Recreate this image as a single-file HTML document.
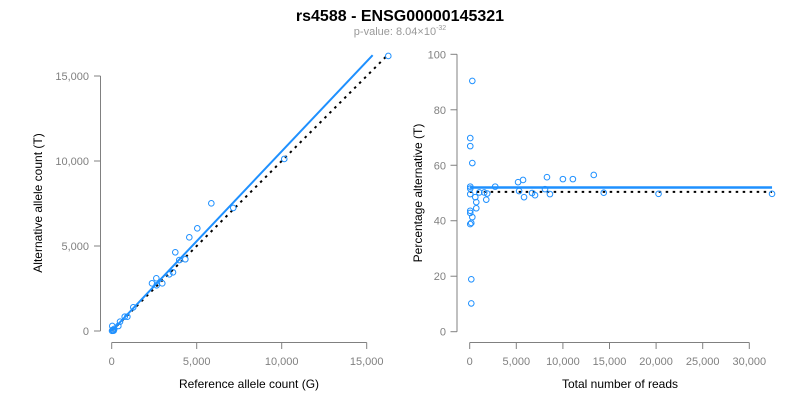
<!DOCTYPE html>
<html><head><meta charset="utf-8">
<style>
body{margin:0;background:#fff;}
svg{display:block;font-family:"Liberation Sans",Arial,sans-serif;}
.tick{font-size:11px;fill:#808080;}
.axt{font-size:12px;fill:#000;}
</style></head>
<body>
<svg id="chart" width="800" height="400">
<text x="400" y="21" text-anchor="middle" font-size="16" font-weight="bold">rs4588 - ENSG00000145321</text>
<text x="400" y="35" text-anchor="middle" font-size="11" fill="#999">p-value: 8.04×10<tspan dy="-5" font-size="7">-32</tspan></text>
<g id="left"></g>
<g id="right"></g>
<text class="axt" x="249" y="388" text-anchor="middle">Reference allele count (G)</text>
<text class="axt" transform="translate(42,203) rotate(-90)" text-anchor="middle">Alternative allele count (T)</text>
<text class="axt" x="620" y="388" text-anchor="middle">Total number of reads</text>
<text class="axt" transform="translate(422,193) rotate(-90)" text-anchor="middle">Percentage alternative (T)</text>
</svg>
<script>
const refCounts=[16270,10150,5860,7150,5035,4565,3740,4330,3975,3605,3390,2625,2370,2975,2645,1270,920,765,490,390,35,60,120,20,90,150];
const altCounts=[16180,10120,7510,7240,6040,5510,4630,4220,4175,3450,3335,3100,2805,2805,2690,1395,840,840,550,295,295,60,30,10,20,120];
const leftXTicks=[0,5000,10000,15000];
const leftXTickLabels=["0","5,000","10,000","15,000"];
const leftYTicks=[0,5000,10000,15000];
const leftYTickLabels=["0","5,000","10,000","15,000"];
const fitSlope=1.057;
const fitMaxX=15350;
const diagMax=16270;

const totalReads=[280,60,60,280,60,60,60,1030,1560,1880,1775,2735,600,705,705,60,60,280,60,170,170,170,5190,5300,5725,5830,6690,7010,8080,8290,8610,10000,11070,13310,14380,20260,32440];
const pctAlt=[90.4,69.8,66.9,60.8,52.3,51.6,49.6,50.2,50.2,49.8,47.6,52.3,48.5,46.7,44.5,43.6,42.8,41.3,38.8,39.2,18.9,10.2,53.9,50.7,54.7,48.5,50,49.2,51.4,55.7,49.6,55,55,56.5,50.1,49.7,49.7];
const rightXTicks=[0,5000,10000,15000,20000,25000,30000];
const rightXTickLabels=["0","5,000","10,000","15,000","20,000","25,000","30,000"];
const rightYTicks=[0,20,40,60,80,100];
const rightYTickLabels=["0","20","40","60","80","100"];
const meanPct=52.0;
const nullPct=50.4;
const rightLineMax=32440;

const NS="http://www.w3.org/2000/svg";
function mk(parent,tag,attrs){const e=document.createElementNS(NS,tag);for(const k in attrs)e.setAttribute(k,attrs[k]);parent.appendChild(e);return e;}
const BLUE="#1e90ff",AX="#808080";

// left panel
const L=document.getElementById('left');
const lx=v=>111.7+v/5000*85;
const ly=v=>331-v/5000*85;
let e;
e=mk(L,'line',{x1:lx(0),y1:ly(0),x2:lx(diagMax),y2:ly(diagMax),stroke:'#000','stroke-width':2,'stroke-dasharray':'2.5,4.5'});


e=mk(L,'line',{x1:lx(0),y1:ly(0),x2:lx(fitMaxX),y2:ly(fitMaxX*fitSlope),stroke:BLUE,'stroke-width':2});


refCounts.forEach((r,i)=>{const c=mk(L,'circle',{cx:lx(r),cy:ly(altCounts[i]),r:2.8,fill:'none',stroke:BLUE,'stroke-width':1});

});
e=mk(L,'line',{x1:lx(0),y1:342.5,x2:lx(15000),y2:342.5,stroke:AX});


leftXTicks.forEach((t,i)=>{mk(L,'line',{x1:lx(t),y1:342.5,x2:lx(t),y2:349,stroke:AX});
const tx=mk(L,'text',{x:lx(t),y:365,'text-anchor':'middle',class:'tick'});tx.textContent=leftXTickLabels[i];

});
e=mk(L,'line',{x1:100.5,y1:ly(0),x2:100.5,y2:ly(15000),stroke:AX});


leftYTicks.forEach((t,i)=>{mk(L,'line',{x1:94,y1:ly(t),x2:100.5,y2:ly(t),stroke:AX});
const tx=mk(L,'text',{x:89,y:ly(t)+4,'text-anchor':'end',class:'tick'});tx.textContent=leftYTickLabels[i];

});

// right panel
const R=document.getElementById('right');
const rx=v=>469.7+v/5000*46.6;
const ry=v=>331.7-v/100*277.4;
e=mk(R,'line',{x1:rx(0),y1:ry(nullPct),x2:rx(rightLineMax),y2:ry(nullPct),stroke:'#000','stroke-width':2,'stroke-dasharray':'2.5,4.5'});


e=mk(R,'line',{x1:rx(0),y1:ry(meanPct),x2:rx(rightLineMax),y2:ry(meanPct),stroke:BLUE,'stroke-width':2.5});


totalReads.forEach((t,i)=>{const c=mk(R,'circle',{cx:rx(t),cy:ry(pctAlt[i]),r:2.8,fill:'none',stroke:BLUE,'stroke-width':1});

});
e=mk(R,'line',{x1:rx(0),y1:342.5,x2:rx(30000),y2:342.5,stroke:AX});


rightXTicks.forEach((t,i)=>{mk(R,'line',{x1:rx(t),y1:342.5,x2:rx(t),y2:349,stroke:AX});
const tx=mk(R,'text',{x:rx(t),y:365,'text-anchor':'middle',class:'tick'});tx.textContent=rightXTickLabels[i];

});
e=mk(R,'line',{x1:457,y1:ry(0),x2:457,y2:ry(100),stroke:AX});


rightYTicks.forEach((t,i)=>{mk(R,'line',{x1:450.5,y1:ry(t),x2:457,y2:ry(t),stroke:AX});
const tx=mk(R,'text',{x:446,y:ry(t)+4,'text-anchor':'end',class:'tick'});tx.textContent=rightYTickLabels[i];

});
</script>
</body></html>
